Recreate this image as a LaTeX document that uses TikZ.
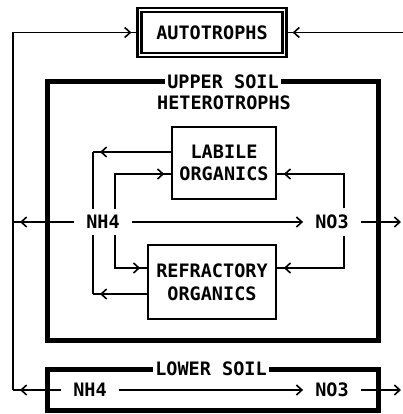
\documentclass[tikz,border=0pt]{standalone}
\usepackage{fontspec}
\newfontfamily\diagfont{DejaVu Sans Mono}
\usetikzlibrary{arrows.meta,decorations.markings}
\begin{document}
\begin{tikzpicture}[x=1pt,y=-1pt,
  txt/.style={font=\diagfont\bfseries\fontsize{18.5}{22}\selectfont, inner sep=0pt},
  term/.style={txt, inner xsep=12pt, inner ysep=6.5pt},
  thinln/.style={line width=1.6pt},
  box/.style={draw, thinln, txt, inner sep=0pt, align=center},
  dblbox/.style={draw, double=white, double distance=1.8pt, line width=2.2pt, inner sep=0pt, txt},
  heavybox/.style={draw, line width=4.4pt, inner sep=0pt},
  title/.style={txt, fill=white, inner xsep=2pt, inner ysep=1pt},
  flow/.style={thinln, postaction={decorate},
    decoration={markings, mark=at position -7pt with {\arrow{Straight Barb[length=5.5pt,width=10pt]}}}},
  arr/.style={thinln, -{Straight Barb[length=5.5pt,width=10pt]}},
]
\useasboundingbox (0,0) rectangle (403,414);
% boxes
\node[dblbox, minimum width=145pt, minimum height=45pt] (auto) at (212,32.5) {AUTOTROPHS};
\node[heavybox, minimum width=331pt, minimum height=259pt] (upper) at (213,211) {};
\node[title] (uptitle) at (223,82) {UPPER SOIL};
\node[txt] (het) at (224,103) {HETEROTROPHS};
\node[box, minimum width=104pt, minimum height=72pt] (lab) at (224,163) {LABILE\\ORGANICS};
\node[box, minimum width=128pt, minimum height=74pt] (ref) at (212,282) {REFRACTORY\\[1pt]ORGANICS};
\node[term] (nh4u) at (103,222) {NH4};
\node[term] (no3u) at (332,222) {NO3};
\node[heavybox, minimum width=331pt, minimum height=41pt] (lower) at (213,390) {};
\node[title] (lowtitle) at (211,369) {LOWER SOIL};
\node[term] (nh4l) at (90,390) {NH4};
\node[term] (no3l) at (332,390) {NO3};
% helper coordinates
\coordinate (TL) at (13,32.5);
\coordinate (TR) at (403,32.5);
\coordinate (RE) at (401,0);
\coordinate (k1) at (93,152);
\coordinate (k2) at (115,174);
\coordinate (k3) at (115,268);
\coordinate (k4) at (93,294);
\coordinate (k5) at (344,174);
\coordinate (k6) at (344,268);
% outer loop to autotrophs
\draw[flow] (nh4l.west) -- (nh4l.west -| TL);
\draw[flow] (nh4l.west -| TL) -- (TL) -- (auto.west);
\draw[flow] (TR) -- (auto.east);
\draw[flow] (nh4u.west) -- (nh4u.west -| TL);
\draw[arr] (no3u.east) -- (no3u.east -| RE);
\draw[arr] (no3l.east) -- (no3l.east -| RE);
% nitrification
\draw[arr] (nh4u) -- (no3u);
\draw[arr] (nh4l) -- (no3l);
% upper soil loops
\draw[flow] (lab.west |- k1) -- (k1);
\draw[thinln] (k1) -- (k1 |- nh4u.north);
\draw[flow] (k2 |- nh4u.north) -- (k2) -- (lab.west |- k2);
\draw[flow] (k3 |- nh4u.south) -- (k3) -- (ref.west |- k3);
\draw[flow] (ref.west |- k4) -- (k4);
\draw[thinln] (k4) -- (k4 |- nh4u.south);
\draw[flow] (k5 |- no3u.north) -- (k5) -- (lab.east |- k5);
\draw[flow] (k6 |- no3u.south) -- (k6) -- (ref.east |- k6);
\end{tikzpicture}
\end{document}
